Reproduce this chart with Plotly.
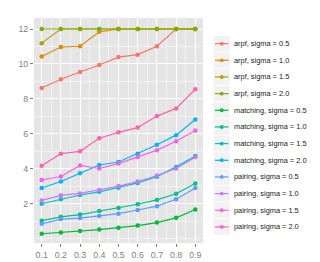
import plotly.graph_objects as go

x_vals = [0.1, 0.2, 0.3, 0.4, 0.5, 0.6, 0.7, 0.8, 0.9]

series_names = [
    "arpf, sigma = 0.5", "arpf, sigma = 1.0", "arpf, sigma = 1.5", "arpf, sigma = 2.0",
    "matching, sigma = 0.5", "matching, sigma = 1.0", "matching, sigma = 1.5", "matching, sigma = 2.0",
    "pairing, sigma = 0.5", "pairing, sigma = 1.0", "pairing, sigma = 1.5", "pairing, sigma = 2.0",
]

arpf_05 = [8.62, 9.12, 9.54, 9.94, 10.39, 10.53, 11.01, 12, 12]
arpf_10 = [10.42, 10.97, 11.01, 11.84, 12, 12, 12, 12, 12]
arpf_15 = [11.19, 12, 12, 12, 12, 12, 12, 12, 12]
arpf_20 = [12, 12, 12, 12, 12, 12, 12, 12, 12]
matching_05 = [0.27, 0.34, 0.43, 0.51, 0.62, 0.74, 0.91, 1.18, 1.66]
matching_10 = [1.02, 1.24, 1.37, 1.57, 1.74, 1.96, 2.21, 2.56, 3.15]
matching_15 = [1.99, 2.25, 2.49, 2.67, 2.91, 3.18, 3.54, 4.10, 4.73]
matching_20 = [2.89, 3.26, 3.74, 4.21, 4.38, 4.86, 5.37, 5.92, 6.82]
pairing_05 = [0.84, 1.11, 1.17, 1.28, 1.42, 1.63, 1.85, 2.25, 2.89]
pairing_10 = [2.18, 2.47, 2.58, 2.77, 3.00, 3.26, 3.61, 4.01, 4.66]
pairing_15 = [3.35, 3.55, 4.18, 4.01, 4.29, 4.66, 5.06, 5.57, 6.18]
pairing_20 = [4.16, 4.86, 4.99, 5.74, 6.08, 6.35, 7.01, 7.45, 8.55]

all_series = [arpf_05, arpf_10, arpf_15, arpf_20, matching_05, matching_10, matching_15,
              matching_20, pairing_05, pairing_10, pairing_15, pairing_20]

colors = ["#F8766D", "#DE8C00", "#B79F00", "#7CAE00", "#00BA38", "#00C08B",
          "#00BFC4", "#00B4F0", "#619CFF", "#C77CFF", "#F564E3", "#FF64B0"]

y_ticks = [2, 4, 6, 8, 10, 12]

W, H = 320, 262
ML, MR, MT, MB = 19, 125, 10, 18
PW, PH = W - ML - MR, H - MT - MB


def px_x(px):
    return (px - ML) / PW


def px_y(py):
    return (H - MB - py) / PH


fig = go.Figure()
for name, vals, c in zip(series_names, all_series, colors):
    fig.add_trace(go.Scatter(
        x=x_vals, y=vals, name=name, mode="lines+markers",
        line=dict(color=c, width=1.2),
        marker=dict(color=c, size=4.5, symbol="circle"),
        showlegend=False,
    ))

# ggplot-style legend: grey key boxes with line + point, text to the right
shapes = []
annotations = []
key_left, key_w, key_top, key_h = 206, 17, 28, 17.33
for i, (name, c) in enumerate(zip(series_names, colors)):
    top = key_top + i * key_h
    bot = top + key_h
    cy = (top + bot) / 2
    cx = key_left + key_w / 2
    shapes.append(dict(type="rect", xref="paper", yref="paper",
                       x0=px_x(key_left), x1=px_x(key_left + key_w),
                       y0=px_y(bot - 0.5), y1=px_y(top + 0.5),
                       fillcolor="#F2F2F2", line=dict(width=0), layer="below"))
    shapes.append(dict(type="line", xref="paper", yref="paper",
                       x0=px_x(key_left + 1.5), x1=px_x(key_left + key_w - 1.5),
                       y0=px_y(cy), y1=px_y(cy),
                       line=dict(color=c, width=1.2)))
    shapes.append(dict(type="circle", xref="paper", yref="paper",
                       x0=px_x(cx - 2), x1=px_x(cx + 2),
                       y0=px_y(cy + 2), y1=px_y(cy - 2),
                       fillcolor=c, line=dict(width=0)))
    annotations.append(dict(xref="paper", yref="paper", x=px_x(key_left + key_w + 2.5),
                            y=px_y(cy), text=name, showarrow=False,
                            xanchor="left", yanchor="middle",
                            font=dict(size=7.4, color="#1A1A1A")))

fig.update_layout(
    width=W, height=H,
    margin=dict(l=ML, r=MR, t=MT, b=MB),
    paper_bgcolor="white",
    plot_bgcolor="#E5E5E5",
    font=dict(family="Liberation Sans, Arial, sans-serif", size=8, color="#222222"),
    showlegend=False,
    shapes=shapes,
    annotations=annotations,
)
fig.update_xaxes(
    range=[0.06, 0.94],
    tickvals=x_vals,
    ticktext=[f"{v:.1f}" for v in x_vals],
    showgrid=True, gridcolor="white", gridwidth=1,
    minor=dict(tickvals=[0.15, 0.25, 0.35, 0.45, 0.55, 0.65, 0.75, 0.85],
               showgrid=True, gridcolor="#F2F2F2", gridwidth=0.5),
    zeroline=False,
    ticks="outside", ticklen=3, tickcolor="#7F7F7F",
    tickfont=dict(size=8.8, color="#7F7F7F"),
    showline=False,
)
fig.update_yaxes(
    range=[-0.26, 12.63],
    tickvals=y_ticks,
    ticktext=[str(v) for v in y_ticks],
    showgrid=True, gridcolor="white", gridwidth=1,
    minor=dict(tickvals=[0, 1, 3, 5, 7, 9, 11],
               showgrid=True, gridcolor="#F2F2F2", gridwidth=0.5),
    zeroline=False,
    ticks="outside", ticklen=3, tickcolor="#7F7F7F",
    tickfont=dict(size=8.8, color="#7F7F7F"),
    showline=False,
)

fig.write_html("out.html")
